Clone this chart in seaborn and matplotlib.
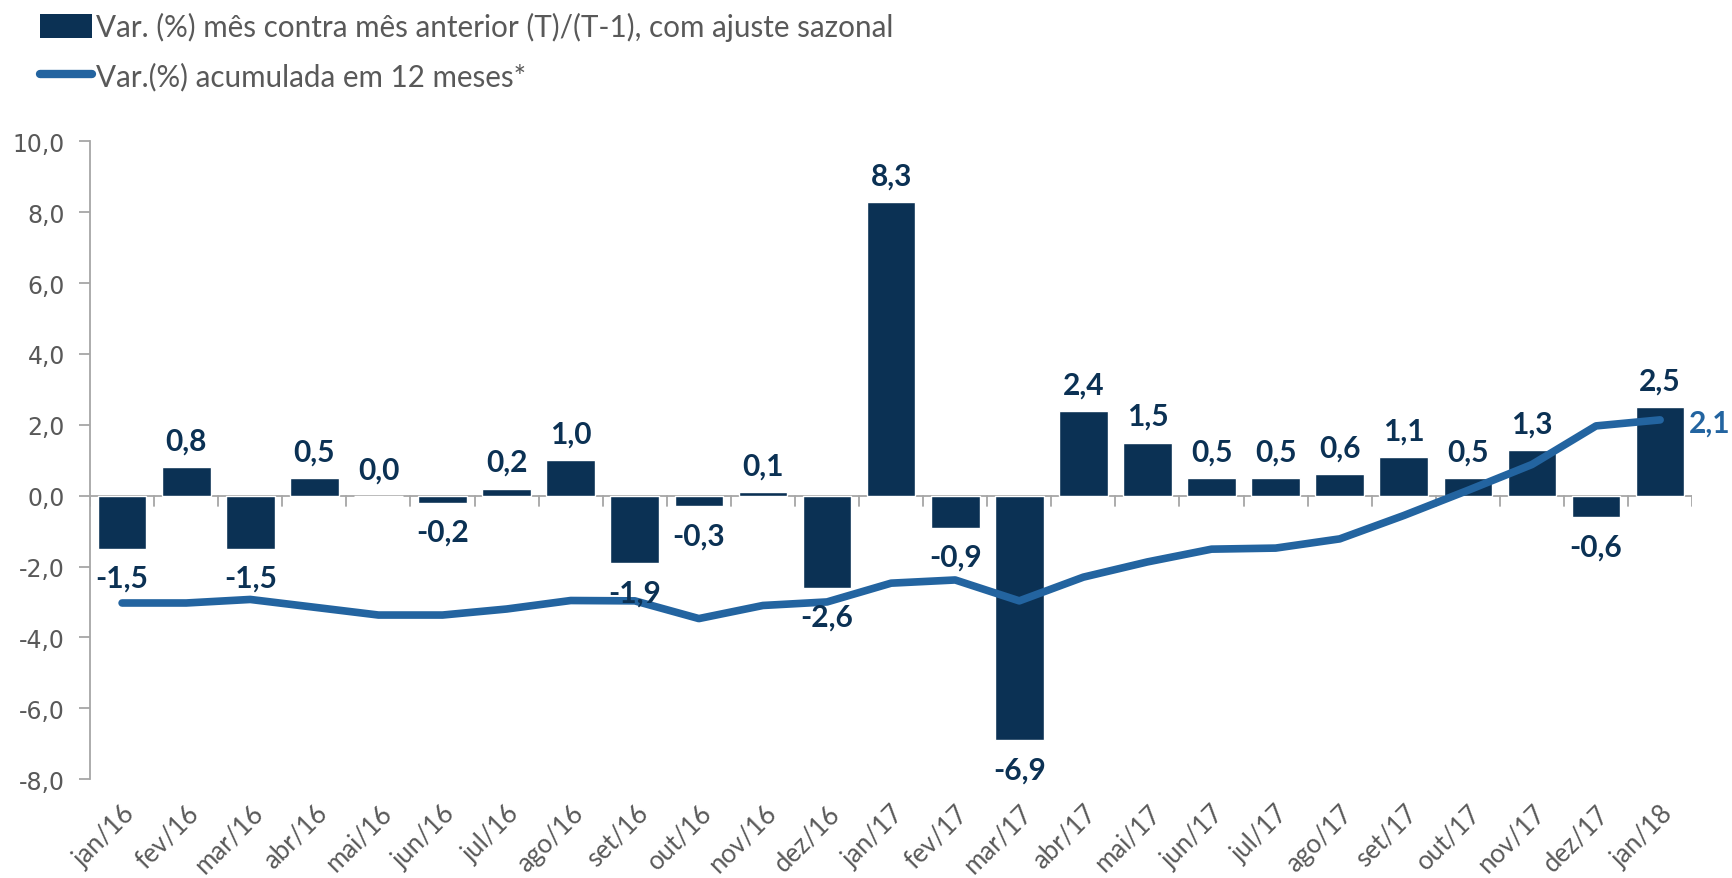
import numpy as np
import pandas as pd
import matplotlib
matplotlib.use("Agg")
import matplotlib.pyplot as plt
import matplotlib.transforms as mtransforms
import seaborn as sns
from matplotlib.patches import Patch
from matplotlib.lines import Line2D

# dados
meses = ['jan/16', 'fev/16', 'mar/16', 'abr/16', 'mai/16', 'jun/16', 'jul/16', 'ago/16',
         'set/16', 'out/16', 'nov/16', 'dez/16', 'jan/17', 'fev/17', 'mar/17', 'abr/17',
         'mai/17', 'jun/17', 'jul/17', 'ago/17', 'set/17', 'out/17', 'nov/17', 'dez/17', 'jan/18']
var_mensal = [-1.5, 0.8, -1.5, 0.5, 0.0, -0.2, 0.2, 1.0, -1.9, -0.3, 0.1, -2.6, 8.3,
              -0.9, -6.9, 2.4, 1.5, 0.5, 0.5, 0.6, 1.1, 0.5, 1.3, -0.6, 2.5]
var_12m = [-3.03, -3.03, -2.93, -3.15, -3.37, -3.37, -3.2, -2.96, -2.97, -3.47, -3.1, -3.0,
           -2.47, -2.38, -2.97, -2.3, -1.87, -1.51, -1.48, -1.22, -0.56, 0.15, 0.88, 1.97, 2.14]

nome_barra = 'Var. (%) mês contra mês anterior (T)/(T-1), com ajuste sazonal'
nome_linha = 'Var.(%) acumulada em 12 meses*'

cor_barra = '#0b3154'
cor_linha = '#2364a0'
cinza = '#595959'

df = pd.DataFrame({'mes': meses, 'mensal': var_mensal, 'acum': var_12m})
df['pos'] = np.arange(len(df))

sns.set_style('white')
plt.rcParams['font.family'] = ['Lato', 'DejaVu Sans']

fig = plt.figure(figsize=(17.32, 8.79), dpi=100)
ax = fig.add_axes([0.052, 0.1126, 0.925, 0.7253])

sns.barplot(data=df, x='mes', y='mensal', color=cor_barra, width=0.76,
            saturation=1, ax=ax, zorder=2)
sns.lineplot(data=df, x='pos', y='acum', color=cor_linha, linewidth=5.5,
             ax=ax, zorder=3, solid_capstyle='round', solid_joinstyle='round')

ax.set_xlim(-0.5, len(meses) - 0.5)
ax.set_ylim(-8, 10)
ax.set_yticks(np.arange(-8, 10.1, 2))
ax.set_yticklabels([f'{v:.1f}'.replace('.', ',') for v in np.arange(-8, 10.1, 2)],
                   fontsize=17, color=cinza, family='DejaVu Sans')
ax.set_xticks(df['pos'])
ax.set_xticklabels(meses, rotation=45, ha='right', rotation_mode='anchor',
                   fontsize=18.5, color=cinza)
desloc = mtransforms.ScaledTranslation(4 / 72, 0, fig.dpi_scale_trans)
for lbl in ax.get_xticklabels():
    lbl.set_transform(lbl.get_transform() + desloc)
ax.set_xlabel('')
ax.set_ylabel('')

for s in ['top', 'right', 'bottom']:
    ax.spines[s].set_visible(False)
ax.spines['left'].set_color('#a6a6a6')
ax.spines['left'].set_linewidth(1.3)
ax.tick_params(axis='y', length=8, width=1.3, color='#a6a6a6', pad=10, left=True)
ax.tick_params(axis='x', length=0, pad=15)

# eixo no zero com marcas entre categorias
ax.axhline(0, color='#a6a6a6', linewidth=1.3, zorder=1)
for b in np.arange(-0.5, len(meses), 1.0):
    ax.plot([b, b], [0, -0.3], color='#a6a6a6', linewidth=1.3, zorder=1)

# rótulos das barras
for i, v in enumerate(var_mensal):
    txt = f'{v:.1f}'.replace('.', ',')
    if v >= 0:
        ax.annotate(txt, (i, v), xytext=(0, 9), textcoords='offset points',
                    ha='center', va='bottom', fontsize=21.5, fontweight='bold', color=cor_barra)
    else:
        ax.annotate(txt, (i, v), xytext=(0, -11), textcoords='offset points',
                    ha='center', va='top', fontsize=21.5, fontweight='bold', color=cor_barra)

# rótulo do último ponto da linha
ult = len(meses) - 1
ax.annotate(f'{var_12m[ult]:.1f}'.replace('.', ','), (ult, var_12m[ult]), xytext=(21, -2),
            textcoords='offset points', ha='left', va='center', fontsize=21.5,
            fontweight='bold', color=cor_linha, annotation_clip=False)

handles = [Patch(facecolor=cor_barra, edgecolor='none'),
           Line2D([0], [0], color=cor_linha, linewidth=6, solid_capstyle='round')]
fig.legend(handles, [nome_barra, nome_linha], loc='upper left', bbox_to_anchor=(0.013, 1.005),
           frameon=False, fontsize=21.3, labelcolor=cinza, handlelength=1.75, handleheight=0.85,
           handletextpad=0.12, labelspacing=0.68, borderaxespad=0.2)

fig.savefig('out.png', dpi=100)
